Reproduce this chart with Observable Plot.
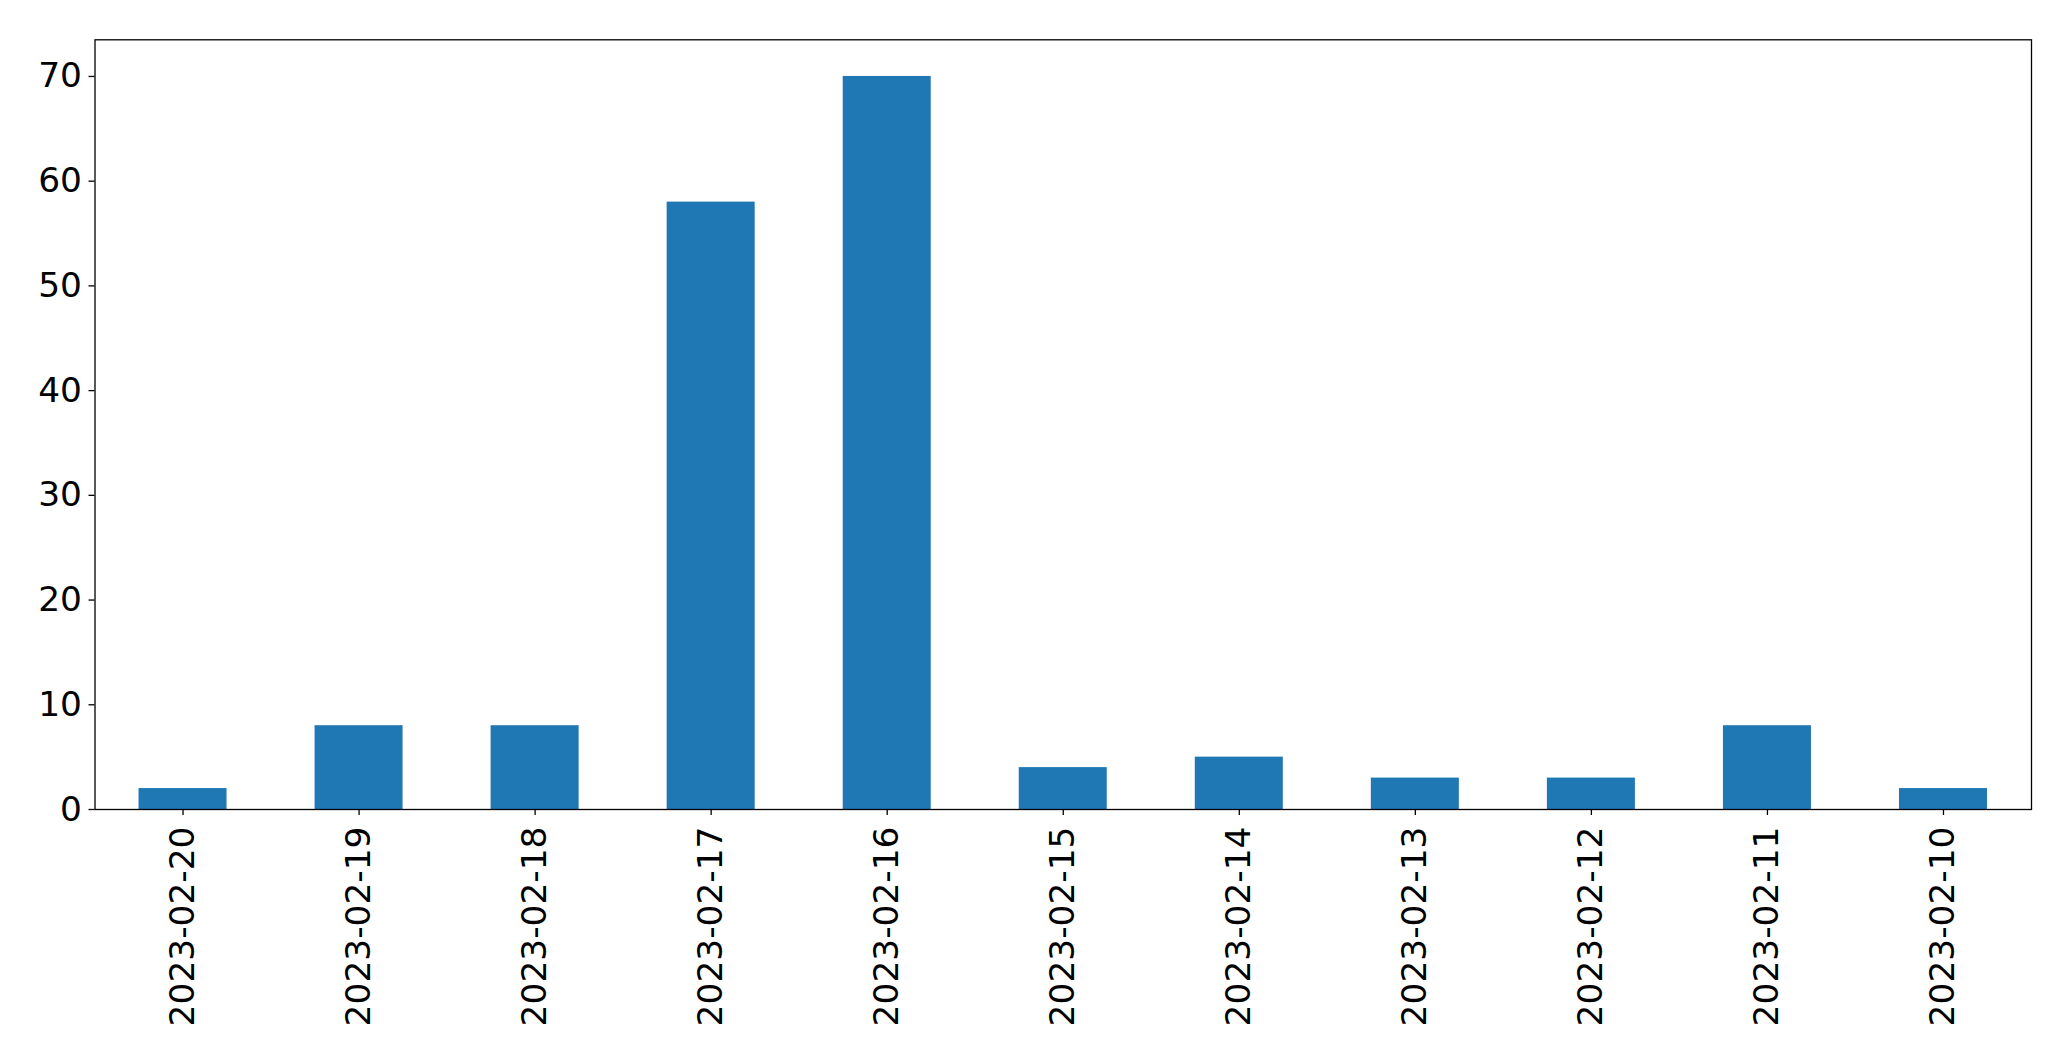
<!DOCTYPE html>
<html>
<head>
<meta charset="utf-8">
<script src="https://cdn.jsdelivr.net/npm/d3@7"></script>
<script src="https://cdn.jsdelivr.net/npm/@observablehq/plot@0.6"></script>
<style>
  html, body { margin: 0; padding: 0; background: #fff; }
  #chart { width: 2071px; height: 1061px; }
</style>
</head>
<body>
<div id="chart"></div>
<script>
const dates = ["2023-02-20","2023-02-19","2023-02-18","2023-02-17","2023-02-16","2023-02-15","2023-02-14","2023-02-13","2023-02-12","2023-02-11","2023-02-10"];
const counts = [2, 8, 8, 58, 70, 4, 5, 3, 3, 8, 2];
const yTicks = [0, 10, 20, 30, 40, 50, 60, 70];

const data = dates.map((d, i) => ({date: d, count: counts[i]}));
const font = "DejaVu Sans, sans-serif";

const chart = Plot.plot({
  width: 2071,
  height: 1061,
  marginLeft: 94.5,
  marginRight: 40,
  marginTop: 39.3,
  marginBottom: 252,
  style: {fontFamily: font, background: "#fff", color: "black"},
  x: {type: "band", domain: dates, paddingInner: 0.5, paddingOuter: 0.25, align: 0.5, round: false},
  y: {domain: [0, 73.5]},
  marks: [
    Plot.barY(data, {x: "date", y: "count", fill: "#1f77b4"}),
    Plot.frame({stroke: "black", strokeWidth: 1.3}),
    Plot.axisY({ticks: yTicks, tickSize: 6, tickPadding: 7, fontSize: 34.4, label: null, stroke: "black", strokeWidth: 1.3, fill: "black"}),
    Plot.axisX({tickSize: 6, tickPadding: 11, tickRotate: -90, fontSize: 34.4, label: null, stroke: "black", strokeWidth: 1.3, fill: "black"})
  ]
});
document.getElementById("chart").appendChild(chart);
</script>
</body>
</html>
